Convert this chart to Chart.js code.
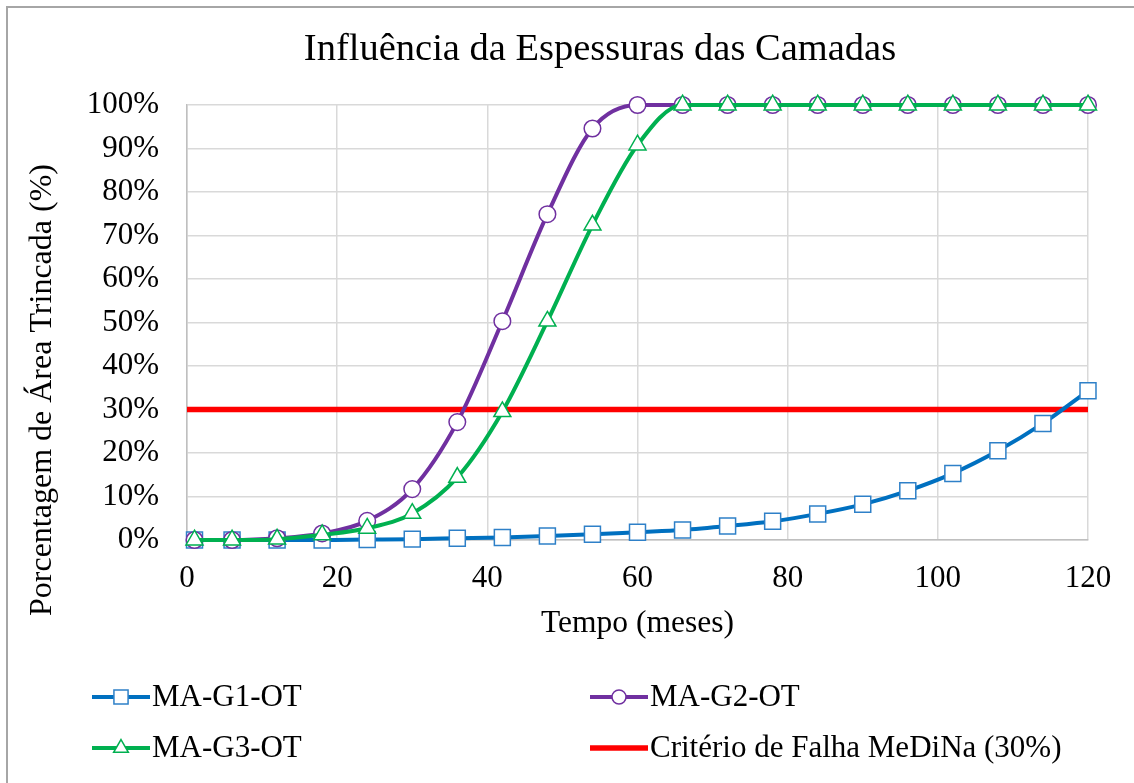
<!DOCTYPE html>
<html>
<head>
<meta charset="utf-8">
<script src="https://cdn.jsdelivr.net/npm/chart.js@4.4.1/dist/chart.umd.min.js"></script>
<style>
  html, body { margin: 0; padding: 0; background: #fff; overflow: hidden; }
  #frame { position: absolute; left: 6px; top: 6px; width: 1200px; height: 900px; border: 2px solid #a6a6a6; box-sizing: border-box; }
  #c { position: absolute; left: 0; top: 0; }
</style>
</head>
<body>
<div id="frame"></div>
<canvas id="c" width="1134" height="783"></canvas>
<script>
const chartTitle = 'Influência da Espessuras das Camadas';
const xTitle = 'Tempo (meses)';
const yTitle = 'Porcentagem de Área Trincada (%)';
const months = [1, 6, 12, 18, 24, 30, 36, 42, 48, 54, 60, 66, 72, 78, 84, 90, 96, 102, 108, 114, 120];
const seriesG1 = [0, 0, 0, 0, 0.1, 0.2, 0.4, 0.6, 0.9, 1.3, 1.8, 2.3, 3.2, 4.3, 6.0, 8.2, 11.3, 15.3, 20.5, 26.8, 34.3];
const seriesG2 = [0, 0, 0.4, 1.5, 4.4, 11.7, 27.1, 50.3, 74.9, 94.6, 100, 100, 100, 100, 100, 100, 100, 100, 100, 100, 100];
const seriesG3 = [0, 0, 0.2, 1.2, 2.7, 6.1, 14.4, 29.5, 50.3, 72.4, 90.8, 100, 100, 100, 100, 100, 100, 100, 100, 100, 100];
const criterionX = [0, 120];
const criterionY = [30, 30];
const names = ['MA-G1-OT', 'MA-G2-OT', 'MA-G3-OT', 'Critério de Falha MeDiNa (30%)'];

const FONT = "'Liberation Serif', 'Times New Roman', serif";
const toPts = (xs, ys) => xs.map((x, i) => ({ x: x, y: ys[i] }));

const seriesStyle = [
  { color: '#0070C0', marker: 'rect', radius: 11.3, border: '#2E80C8' },
  { color: '#7030A0', marker: 'circle', radius: 8.3, border: '#7030A0' },
  { color: '#00B050', marker: 'triangle', radius: 9.8, border: '#00B050' },
  { color: '#FF0000', marker: false, radius: 0, border: '#FF0000' }
];

function mkLine(idx, data, order) {
  const s = seriesStyle[idx];
  return {
    label: names[idx],
    data: data,
    borderColor: s.color,
    borderWidth: 4,
    pointStyle: s.marker,
    pointRadius: s.radius,
    pointHoverRadius: s.radius,
    pointBackgroundColor: '#ffffff',
    pointBorderColor: s.border,
    pointBorderWidth: 1.5,
    cubicInterpolationMode: 'monotone',
    fill: false,
    order: order,
    clip: false
  };
}

const redSet = mkLine(3, toPts(criterionX, criterionY), 4);
redSet.borderWidth = 5.5;
redSet.pointRadius = 0;
redSet.cubicInterpolationMode = 'default';
redSet.tension = 0;

const titleLegendPlugin = {
  id: 'titleLegend',
  afterDraw(chart) {
    const ctx = chart.ctx;
    ctx.save();
    ctx.fillStyle = '#000';
    ctx.font = '38.5px ' + FONT;
    ctx.textAlign = 'center';
    ctx.textBaseline = 'middle';
    ctx.fillText(chartTitle, 600, 50);

    // y axis title
    ctx.save();
    ctx.translate(43, 390);
    ctx.rotate(-Math.PI / 2);
    ctx.font = '32px ' + FONT;
    ctx.fillText(yTitle, 0, 0);
    ctx.restore();

    const pos = [[92, 697], [590, 697], [92, 748], [590, 748]];
    pos.forEach((p, i) => {
      const s = seriesStyle[i];
      const x0 = p[0], y0 = p[1];
      ctx.strokeStyle = s.color;
      ctx.lineWidth = i === 3 ? 5.5 : 4;
      ctx.beginPath();
      ctx.moveTo(x0, y0);
      ctx.lineTo(x0 + 58, y0);
      ctx.stroke();
      if (s.marker) {
        ctx.fillStyle = '#fff';
        ctx.strokeStyle = s.border;
        ctx.lineWidth = 1.5;
        const r = s.marker === 'rect' ? 10 : (s.marker === 'circle' ? 7 : 8.5);
        Chart.helpers.drawPoint(ctx, { pointStyle: s.marker, rotation: 0, borderWidth: 1.5, radius: r }, x0 + 29, y0);
      }
      ctx.fillStyle = '#000';
      ctx.font = '31px ' + FONT;
      ctx.textAlign = 'left';
      ctx.textBaseline = 'middle';
      ctx.fillText(names[i], x0 + 60, y0 + 1);
    });
    ctx.restore();
  }
};

const chart = new Chart(document.getElementById('c'), {
  type: 'line',
  data: {
    datasets: [
      mkLine(0, toPts(months, seriesG1), 3),
      mkLine(1, toPts(months, seriesG2), 2),
      mkLine(2, toPts(months, seriesG3), 1),
      redSet
    ]
  },
  options: {
    responsive: false,
    animation: false,
    layout: { padding: { top: 105, left: 0, right: 46, bottom: 140 } },
    plugins: {
      legend: { display: false },
      title: { display: false },
      tooltip: { enabled: false }
    },
    scales: {
      x: {
        type: 'linear',
        min: 0, max: 120,
        ticks: { stepSize: 20, font: { family: FONT, size: 31 }, color: '#000', padding: 20, maxRotation: 0 },
        grid: { color: '#d9d9d9', lineWidth: 1.5, drawTicks: false },
        border: { color: '#bfbfbf', width: 1.5 },
        title: { display: true, text: xTitle, font: { family: FONT, size: 31.5 }, color: '#000', padding: { top: 0, bottom: 0 } },
        afterFit(scale) { scale.height = 103; }
      },
      y: {
        min: 0, max: 100,
        ticks: { stepSize: 10, font: { family: FONT, size: 31 }, color: '#000', padding: 28, callback: v => v + '%' },
        grid: { color: '#d9d9d9', lineWidth: 1.5, drawTicks: false },
        border: { color: '#bfbfbf', width: 1.5 },
        title: { display: false },
        afterFit(scale) { scale.width = 187; }
      }
    }
  },
  plugins: [titleLegendPlugin]
});
</script>
</body>
</html>
